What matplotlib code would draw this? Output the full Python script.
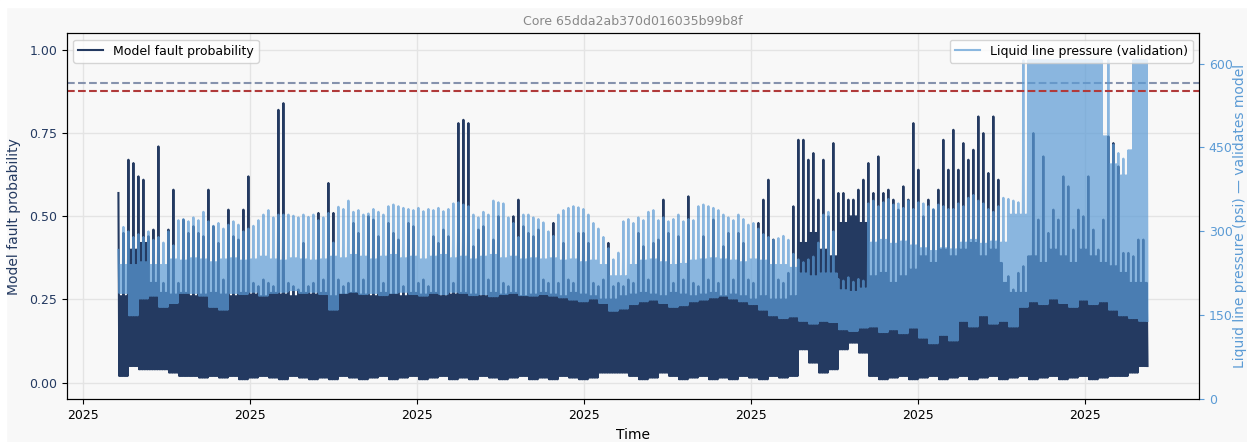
import numpy as np
import pandas as pd
import matplotlib
matplotlib.use("Agg")
import matplotlib.pyplot as plt
import matplotlib.dates as mdates
from matplotlib.patches import Rectangle

title = "Core 65dda2ab370d016035b99b8f"
t_start = "2025-03-04 11:45"
t_end = "2025-04-16 15:00"

# peak of each short window (model fault probability)
prob_hi = [
    .57, .45, .67, .66, .62, .61, .44, .46, .71, .30,
    .46, .58, .30, .49, .45, .47, .45, .44, .58, .47,
    .42, .31, .52, .44, .43, .52, .62, .30, .29, .31,
    .30, .29, .82, .84, .30, .29, .28, .42, .29, .30,
    .51, .31,
    .60, .51, .31, .29, .30, .48, .45, .31, .50, .49,
    .44, .30, .48, .45, .43, .29, .48, .47, .30, .31,
    .29, .44, .42, .46, .44, .30, .78, .79, .78, .41,
    .46, .47, .31, .43, .50, .30, .29, .50, .55, .47,
    .45, .44,
    .46, .31, .30, .48, .30, .42, .31, .30, .45, .45,
    .42, .30, .29, .31, .42, .29, .30, .29, .31, .30,
    .45, .41, .31, .42, .43, .55, .45, .30, .44, .31,
    .56, .30, .29, .44, .31, .49, .30, .41, .45, .31,
    .45, .42,
    .31, .30, .48, .55, .61, .43, .31, .30, .33, .53,
    .73, .73, .67, .69, .55, .67, .50, .72, .57, .57,
    .55, .55, .58, .61, .66, .57, .68, .57, .58, .55,
    .52, .59, .55, .78, .64, .50, .55, .52, .58, .73,
    .64,
    .76, .64, .72, .67, .70, .80, .75, .63, .80, .61,
    .30, .32, .28, .33, .35, .38, .75, .49, .68, .45,
    .52, .49, .62, .59, .46, .52, .50, .62, .46, .40,
    .49, .74, .72, .65, .39, .39, .38, .43, .43,
]
# usual daily top of the swings, per pair of windows
prob_top = [
    .26, .40, .42, .30, .27,
    .265, .27, .26, .265, .27, .265, .26, .27, .265, .26,
    .27, .265, .26, .27, .265, .27, .26, .265, .27, .265,
    .26, .27, .265, .26, .27, .265, .27, .26, .265, .27,
    .265, .26, .27, .265, .27, .26, .265, .27, .265, .26,
    .27, .265, .26, .25, .25, .26, .265, .27, .265, .26,
    .27, .265, .26, .265, .27, .26, .265, .26, .25, .26,
    .25, .25, .26, .42, .45, .40, .38, .48, .50, .48,
    .32, .33, .30, .32, .34, .38, .36, .40, .38, .40,
    .42, .38, .40, .36, .27, .27, .38, .36, .40, .38,
    .36, .40, .38, .36, .35, .33, .30, .30,
]
# trough of each window pair (model fault probability)
prob_lo = [
    .02, .05, .04, .04, .04, .03, .02, .02, .015, .02,
    .015, .02, .01, .015, .02, .015, .01, .02, .015, .01,
    .015, .01, .02, .015, .01, .015, .02, .01, .015, .02,
    .01, .015, .02, .01, .015, .01, .02, .015, .01, .015,
    .02, .01, .015, .01, .02, .015, .01, .015, .03, .03,
    .03, .02, .01, .015, .03, .02, .01, .015, .02, .01,
    .015, .01, .02, .015, .01, .02, .015, .02, .10, .06,
    .03, .04, .10, .12, .09, .02, .01, .015, .02, .01,
    .015, .02, .01, .015, .02, .01, .015, .02, .01, .015,
    .02, .01, .015, .02, .01, .015, .02, .01, .015, .02,
    .02, .03, .05,
]
# peak of each short window (liquid line pressure, psi)
psi_hi = [
    267, 308, 300, 290, 295, 290, 300, 285, 290, 280,
    300, 275, 320, 322, 318, 325, 320, 335, 318, 310,
    315, 305, 312, 318, 312, 300, 305, 310, 320, 330,
    338, 325, 330, 330, 330, 328, 325, 330, 326, 330,
    320, 325,
    333, 280, 344, 340, 355, 335, 338, 330, 332, 340,
    335, 330, 345, 348, 345, 342, 340, 338, 342, 336,
    340, 338, 342, 336, 340, 350, 352, 348, 345, 330,
    325, 335, 330, 355, 352, 350, 325, 315, 290, 330,
    330, 325,
    322, 316, 300, 292, 330, 338, 342, 345, 343, 340,
    330, 315, 305, 290, 270, 250, 262, 318, 322, 315,
    325, 320, 335, 338, 320, 325, 318, 322, 330, 318,
    322, 320, 345, 348, 345, 342, 338, 330, 325, 320,
    330, 322,
    312, 315, 305, 295, 290, 285, 288, 292, 285, 260,
    250, 245, 250, 255, 280, 330, 335, 300, 215, 212,
    218, 210, 215, 212, 350, 355, 345, 352, 358, 348,
    350, 342, 355, 340, 352, 350, 345, 340, 348, 345,
    340,
    340, 350, 345, 360, 365, 355, 350, 340, 335, 345,
    360, 358, 355, 352, 606, 606, 606, 606, 606, 606,
    606, 606, 606, 606, 606, 606, 606, 606, 606, 606,
    470, 606, 455, 440, 430, 445, 606, 606, 606,
]
# usual daily top of the swings, per pair of windows (psi)
psi_top = [
    240, 240, 245, 240, 240,
    250, 248, 252, 250, 245, 250, 252, 248, 250, 255,
    250, 248, 252, 250, 248, 250,
    255, 252, 258, 255, 250, 255, 258, 252, 255, 250,
    255, 258, 252, 255, 250, 255, 258, 252, 255, 250, 252,
    250, 252, 248, 250, 245, 248, 240, 220, 220, 240,
    248, 250, 245, 240, 242, 248, 250, 252, 250, 248, 245,
    250, 248, 240, 240, 235, 225, 220, 225, 225, 195,
    192, 198, 280, 285, 278, 282, 275, 270, 265, 270, 268,
    280, 285, 278, 282, 280, 330, 330, 606, 606, 606,
    606, 606, 606, 606, 606, 420, 400, 606, 606,
]
# trough of each window pair (liquid line pressure, psi)
psi_lo = [
    190, 150, 180, 185, 165, 172, 190, 190, 185, 165,
    160, 190, 188, 192, 185, 190, 192, 195, 190, 192,
    188, 160, 190, 192, 188, 190, 186, 190, 192, 188,
    185, 190, 188, 192, 190, 186, 188, 184, 188, 190,
    186, 185, 188, 185, 182, 178, 175, 180, 172, 158,
    162, 170, 175, 178, 172, 165, 168, 175, 178, 182,
    185, 180, 175, 170, 160, 150, 145, 148, 140, 135,
    140, 138, 125, 122, 128, 130, 120, 125, 118, 128,
    110, 100, 115, 105, 140, 130, 150, 135, 140, 130,
    165, 175, 170, 180, 172, 165, 178, 170, 175, 160,
    150, 145, 140,
]
prob_threshold = 0.9
psi_threshold = 550


def swing(hi, top, lo):
    # one sharp peak per window, then two ordinary swings top -> trough
    hi = np.asarray(hi, dtype=float)
    k = len(hi) // len(lo)
    lo = np.repeat(np.asarray(lo, dtype=float), k)
    top = np.minimum(np.repeat(np.asarray(top, dtype=float), k), hi)
    return np.column_stack([hi, lo, top, lo, top, lo]).ravel()


prob = swing(prob_hi, prob_top, prob_lo)
psi = swing(psi_hi, psi_top, psi_lo)
times = pd.date_range(t_start, t_end, periods=len(prob))

navy = "#243a61"
sky = "#5b9bd5"

fig = plt.figure(figsize=(12.47, 4.42), dpi=100, facecolor="#f8f8f8")
fig.patches.append(Rectangle((0, 0.984), 1, 0.016, transform=fig.transFigure, color="white", zorder=-1))
fig.patches.append(Rectangle((0, 0), 0.005, 1, transform=fig.transFigure, color="white", zorder=-1))
ax1 = fig.add_axes([0.0537, 0.0966, 0.9078, 0.8281])
ax1.set_facecolor("#f8f8f8")
ax2 = ax1.twinx()

(l1,) = ax1.plot(times, prob, color=navy, linewidth=1.5, label="Model fault probability")
ax1.axhline(prob_threshold, color="#8592ad", linestyle="--", linewidth=1.5)
(l2,) = ax2.plot(times, psi, color=sky, alpha=0.7, linewidth=1.5, label="Liquid line pressure (validation)")
ax2.axhline(psi_threshold, color="#b03a3a", linestyle="--", linewidth=1.5)

ax1.set_ylim(-0.05, 1.05)
ax1.set_yticks([0, 0.25, 0.5, 0.75, 1.0])
ax2.set_ylim(0, 654)
ax2.set_yticks([0, 150, 300, 450, 600])

ax1.xaxis.set_major_locator(mdates.WeekdayLocator(byweekday=mdates.MO))
ax1.xaxis.set_major_formatter(mdates.DateFormatter("%Y"))

ax1.grid(True, color="#e4e4e4", linewidth=1)
ax1.tick_params(axis="y", labelcolor=navy, labelsize=9)
ax1.tick_params(axis="x", labelsize=9)
ax2.tick_params(axis="y", labelcolor=sky, labelsize=9, colors=sky)
ax1.set_ylabel("Model fault probability", color=navy, fontsize=10, labelpad=6)
ax2.set_ylabel("Liquid line pressure (psi) — validates model", color=sky, fontsize=10, labelpad=0)
ax1.set_xlabel("Time", fontsize=10)
ax1.set_title(title, fontsize=9, color="#888888")

ax1.legend(handles=[l1], loc="upper left", fontsize=9)
ax2.legend(handles=[l2], loc="upper right", fontsize=9)

fig.savefig("out.png", dpi=100, facecolor=fig.get_facecolor())
